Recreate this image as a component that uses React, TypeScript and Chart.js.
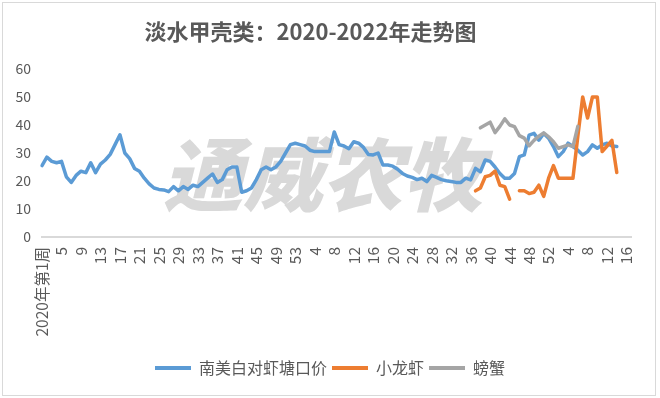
import React, { useEffect, useRef } from 'react';
import { Chart, registerables } from 'chart.js';

Chart.register(...registerables);

const TITLE = '淡水甲壳类：2020-2022年走势图';
const WATERMARK = '通威农牧';
const SERIES_NAMES = ['南美白对虾塘口价', '小龙虾', '螃蟹'];
const COLORS = ['#5B9BD5', '#ED7D31', '#A5A5A5'];

// weeks shown per year: 2020, 2021, 2022
const WEEKS_PER_YEAR = [53, 52, 17];
const FIRST_LABEL = '2020年第1周';
const TICK_STEP = 4;
const Y_MIN = 0;
const Y_MAX = 60;
const Y_STEP = 10;

// 南美白对虾塘口价, from 2020 week 1
const shrimpValues = [
  25.5, 28.5, 27, 26.5, 27, 21.5, 19.5, 22, 23.5, 23,
  26.5, 23, 26, 27.5, 29.5, 33, 36.5, 30, 28, 24.5,
  23.5, 21, 19, 17.5, 17, 16.8, 16.2, 18, 16.5, 18,
  17, 18.5, 18, 19.5, 21, 22.5, 19.5, 20.5, 24, 25,
  25, 16, 16.5, 17.5, 20.5, 24, 25, 24, 25, 27,
  30, 33, 33.5, 33, 32.5, 31, 30.5, 30.5, 30.5, 30.5,
  37.5, 33, 32.5, 31.5, 34, 33.5, 32, 29.5, 29.3, 30,
  25.7, 25.7, 25.3, 24.2, 22.7, 21.8, 21.3, 20.5, 21, 19.8,
  22, 21.3, 20.5, 20.1, 19.8, 19.5, 19.5, 21, 20.4, 24.5,
  23.3, 27.5, 27, 25, 22.7, 21, 21, 22.7, 28.7, 29.3,
  36.4, 37, 34.6, 37, 35.3, 32.3, 28.7, 30.5, 33.5, 32.3,
  31, 29.3, 30.5, 32.9, 31.7, 32.9, 33.5, 32.5, 32.3,
];

// 小龙虾, first value at category index 89
const crayfishStart = 89;
const crayfishValues = [
  16.5, 17.5, 21.5, 22, 23.5, 18.5, 18, 13.5, null, 16.5,
  16.5, 15.5, 16, 18.5, 14.5, 21, 25.5, 21, 21, 21,
  21, 36, 50, 42.5, 50, 50, 30.5, 32.5, 34.5, 23,
];

// 螃蟹, first value at category index 90
const crabStart = 90;
const crabValues = [
  39, 40, 41, 37.3, 39.5, 42.2, 40, 39.4, 36.2, 35.3,
  32.6, 34.5, 36, 37.2, 35.8, 34, 31.7, 32.3, 32.9, 32.3,
  39.5,
];

const categories: string[] = [];
WEEKS_PER_YEAR.forEach((n, y) => {
  for (let w = 1; w <= n; w++) {
    categories.push(y === 0 && w === 1 ? FIRST_LABEL : String(w));
  }
});

const place = (start: number, vals: (number | null)[]) =>
  categories.map((_, i) => (i >= start && i < start + vals.length ? vals[i - start] : null));

const FONT = '"Noto Sans CJK SC", "Noto Sans", sans-serif';
const TEXT_COLOR = '#595959';

const watermarkPlugin = {
  id: 'watermark',
  beforeDatasetsDraw(chart: any) {
    const { ctx, chartArea } = chart;
    ctx.save();
    ctx.font = `italic 900 80px ${FONT}`;
    ctx.fillStyle = '#d9d9d9';
    ctx.textAlign = 'center';
    ctx.textBaseline = 'middle';
    const cx = (chartArea.left + chartArea.right) / 2 - 14;
    const cy = (chartArea.top + chartArea.bottom) / 2 + 22;
    ctx.fillText(WATERMARK, cx, cy);
    ctx.restore();
  },
};

export default function App() {
  const ref = useRef<HTMLCanvasElement>(null);

  useEffect(() => {
    if (!ref.current) return;
    const series = [place(0, shrimpValues), place(crayfishStart, crayfishValues), place(crabStart, crabValues)];
    const datasets = series.map((d, i) => ({
      label: SERIES_NAMES[i],
      data: d,
      borderColor: COLORS[i],
      backgroundColor: COLORS[i],
      borderWidth: 3.5,
      pointRadius: 0,
      pointHoverRadius: 0,
      tension: 0,
      spanGaps: false,
      borderJoinStyle: 'round' as const,
      borderCapStyle: 'round' as const,
      order: 3 - i,
    }));

    const chart = new Chart(ref.current, {
      type: 'line',
      data: { labels: categories, datasets },
      options: {
        animation: false,
        responsive: false,
        devicePixelRatio: 1,
        layout: { padding: { top: 69, bottom: 12, left: 0, right: 0 } },
        plugins: {
          title: { display: false },
          tooltip: { enabled: false },
          legend: {
            position: 'bottom',
            labels: {
              boxWidth: 36,
              boxHeight: 4,
              padding: 5,
              color: TEXT_COLOR,
              font: { family: FONT, size: 16 },
              sort: (a: any, b: any) => a.datasetIndex - b.datasetIndex,
              generateLabels: (c: any) =>
                (Chart.defaults.plugins.legend.labels.generateLabels as any)(c).map((l: any) => ({
                  ...l,
                  lineWidth: 0,
                  fillStyle: l.strokeStyle,
                })),
            },
          },
        },
        scales: {
          x: {
            type: 'category',
            offset: false,
            grid: { display: false, drawTicks: false },
            border: { display: true, color: '#d9d9d9', width: 2 },
            ticks: {
              autoSkip: false,
              minRotation: 90,
              maxRotation: 90,
              padding: 10,
              color: TEXT_COLOR,
              font: { family: FONT, size: 15.5 },
              callback: (_v: any, i: number) => (i % TICK_STEP === 0 ? categories[i] : ''),
            },
            afterFit: (s: any) => {
              s.height = 118;
            },
          },
          y: {
            min: Y_MIN,
            max: Y_MAX,
            grid: { display: false, drawTicks: false },
            border: { display: false },
            ticks: {
              stepSize: Y_STEP,
              padding: 11,
              color: TEXT_COLOR,
              font: { family: FONT, size: 14 },
            },
            afterFit: (s: any) => {
              s.width = 42;
            },
          },
          y2: {
            position: 'right',
            display: true,
            grid: { display: false, drawTicks: false },
            border: { display: false },
            ticks: { display: false },
            afterFit: (s: any) => {
              s.width = 23;
            },
          },
        },
      },
      plugins: [watermarkPlugin],
    });
    return () => chart.destroy();
  }, []);

  return (
    <div style={{ position: 'fixed', left: 0, top: 0, width: 660, height: 398, background: '#fff' }}>
      <div
        style={{
          position: 'absolute',
          left: 2,
          top: 2,
          width: 654,
          height: 394,
          boxSizing: 'border-box',
          border: '1px solid #d9d9d9',
        }}
      />
      <canvas ref={ref} width={660} height={398} style={{ position: 'absolute', left: 0, top: 0 }} />
      <div
        style={{
          position: 'absolute',
          left: 0,
          top: 16,
          width: 621,
          textAlign: 'center',
          font: `bold 22px ${FONT}`,
          lineHeight: '28px',
          color: TEXT_COLOR,
          whiteSpace: 'nowrap',
        }}
      >
        {TITLE}
      </div>
    </div>
  );
}
